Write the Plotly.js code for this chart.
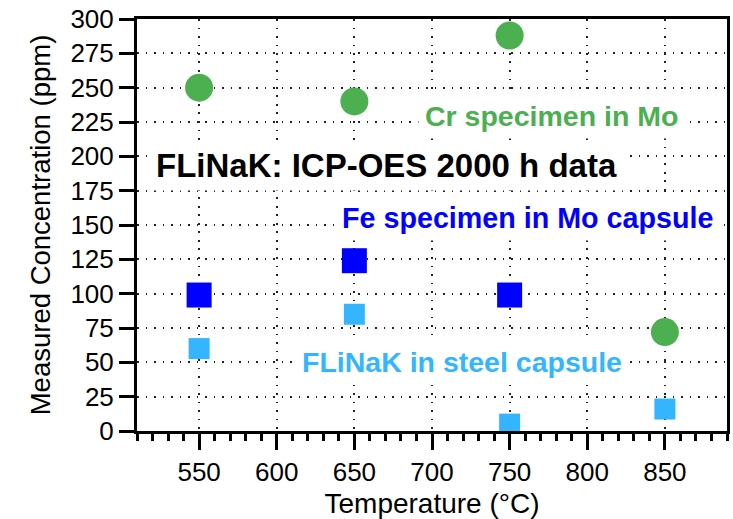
<!DOCTYPE html>
<html>
<head>
<meta charset="utf-8">
<script src="https://cdn.plot.ly/plotly-3.0.1.min.js"></script>
<style>
html,body{margin:0;padding:0;background:#fff;}
#chart{width:733px;height:519px;}
</style>
</head>
<body>
<div id="chart"></div>
<script>
// Data
const temperatures = [550, 650, 750, 850];
const crInMo = [250, 240, 288, 72];
const feTemps = [550, 650, 750];
const feInMo = [99, 124, 99];
const flinakSteel = [60, 85, 5, 16];
const xTickVals = [550, 600, 650, 700, 750, 800, 850];
const yTickVals = [0, 25, 50, 75, 100, 125, 150, 175, 200, 225, 250, 275, 300];

const FONT = 'Liberation Sans, Arial, Helvetica, sans-serif';

const traces = [
  {
    x: temperatures, y: crInMo, type: 'scatter', mode: 'markers', name: 'Cr specimen in Mo',
    marker: {symbol: 'circle', size: 28, color: '#4CAF50', line: {width: 0}}
  },
  {
    x: feTemps, y: feInMo, type: 'scatter', mode: 'markers', name: 'Fe specimen in Mo capsule',
    marker: {symbol: 'square', size: 25, color: '#0000FF', line: {width: 0}}
  },
  {
    x: temperatures, y: flinakSteel, type: 'scatter', mode: 'markers', name: 'FLiNaK in steel capsule',
    marker: {symbol: 'square', size: 21, color: '#33B6FF', line: {width: 0}}
  }
];

const gridStyle = {showgrid: true, gridcolor: '#222222', gridwidth: 1.8, griddash: '1.8px,6.7px'};

const layout = {
  width: 733, height: 519,
  margin: {l: 137, r: 6, t: 19, b: 88, pad: 0},
  paper_bgcolor: '#ffffff', plot_bgcolor: '#ffffff',
  showlegend: false,
  font: {family: FONT, color: '#000000'},
  xaxis: Object.assign({
    range: [510, 890], tickmode: 'array', tickvals: xTickVals,
    ticks: 'outside', ticklen: 16, tickwidth: 3, tickcolor: '#000',
    showline: true, linewidth: 3, linecolor: '#000', mirror: true,
    zeroline: false,
    tickfont: {family: FONT, size: 26, color: '#000'},
    minor: {dtick: 10, tick0: 0, ticks: 'outside', ticklen: 7, tickwidth: 3, tickcolor: '#000', showgrid: false},
    title: {text: 'Temperature (°C)', font: {family: FONT, size: 28, color: '#000'}, standoff: 15}
  }, gridStyle),
  yaxis: Object.assign({
    range: [0, 300], tickmode: 'array', tickvals: yTickVals,
    ticks: 'outside', ticklen: 15, tickwidth: 3, tickcolor: '#000',
    showline: true, linewidth: 3, linecolor: '#000', mirror: true,
    zeroline: false,
    tickfont: {family: FONT, size: 26, color: '#000'},
    title: {text: 'Measured Concentration (ppm)', font: {family: FONT, size: 27.5, color: '#000'}, standoff: 12}
  }, gridStyle),
  annotations: [
    {text: 'Cr specimen in Mo', xref: 'x', yref: 'y', x: 777, y: 229.5, showarrow: false,
     xanchor: 'center', yanchor: 'middle', bgcolor: '#ffffff', borderpad: 6,
     font: {family: FONT, size: 28.5, color: '#4CAF50', weight: 'bold'}},
    {text: 'FLiNaK: ICP-OES 2000 h data', xref: 'x', yref: 'y', x: 671, y: 193, showarrow: false,
     xanchor: 'center', yanchor: 'middle', bgcolor: '#ffffff', borderpad: 6,
     font: {family: FONT, size: 33, color: '#000000', weight: 'bold'}},
    {text: 'Fe specimen in Mo capsule', xref: 'x', yref: 'y', x: 761.5, y: 155, showarrow: false,
     xanchor: 'center', yanchor: 'middle', bgcolor: '#ffffff', borderpad: 6,
     font: {family: FONT, size: 28.7, color: '#0000FF', weight: 'bold'}},
    {text: 'FLiNaK in steel capsule', xref: 'x', yref: 'y', x: 719, y: 50, showarrow: false,
     xanchor: 'center', yanchor: 'middle', bgcolor: '#ffffff', borderpad: 6,
     font: {family: FONT, size: 28.5, color: '#33B6FF', weight: 'bold'}}
  ]
};

Plotly.newPlot('chart', traces, layout, {displayModeBar: false, staticPlot: true});
</script>
</body>
</html>
